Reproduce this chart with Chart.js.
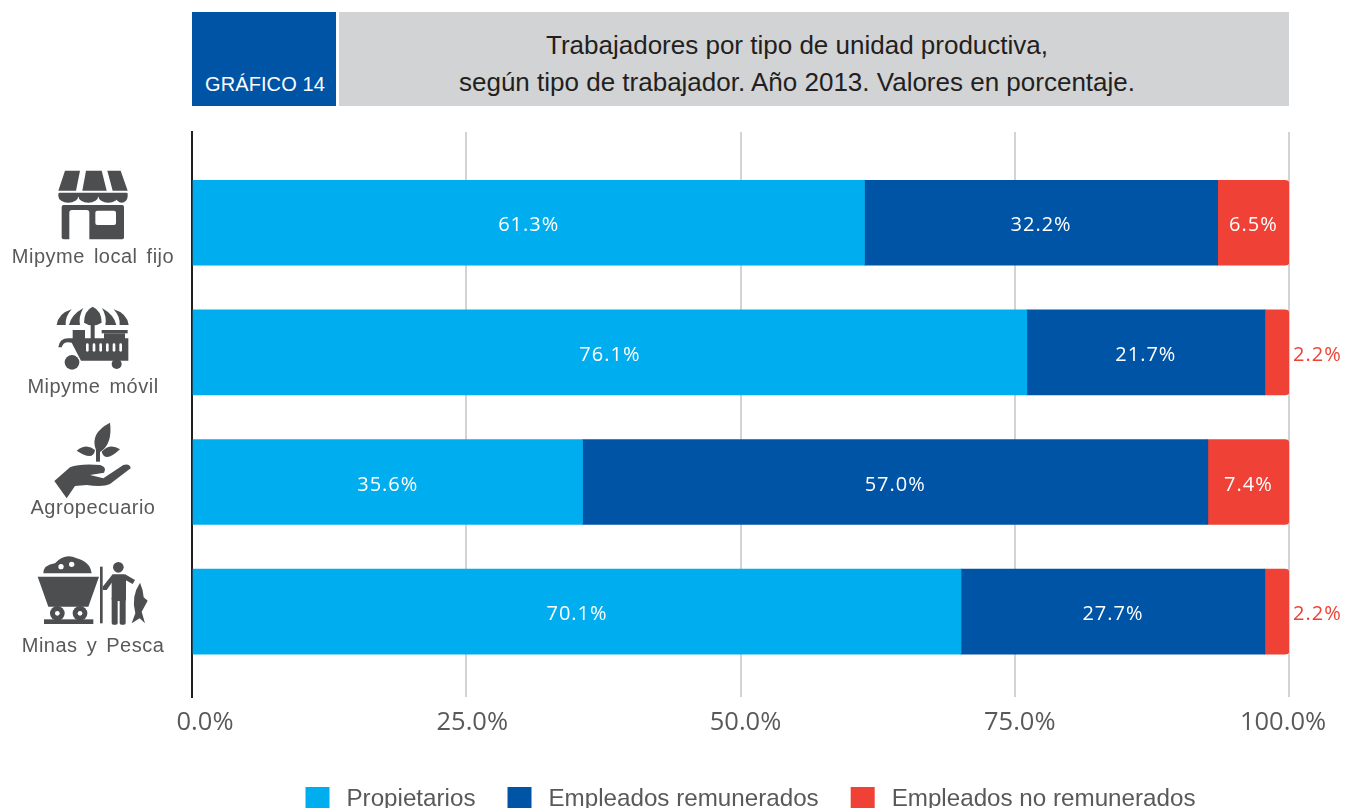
<!DOCTYPE html>
<html lang="es">
<head>
<meta charset="utf-8">
<title>Gráfico 14</title>
<script src="https://cdn.jsdelivr.net/npm/chart.js@4"></script>
<style>
  html, body { margin: 0; padding: 0; background: #fff; width: 1345px; height: 808px; overflow: hidden; }
  #chart { position: absolute; left: 0; top: 0; }
  .head { position: absolute; top: 12px; height: 94px; }
  .head-num { left: 192px; width: 144px; background: #0054a6; }
  .head-num span { position: absolute; left: 13px; top: 60px; color: #fff; font: 20px/24px "Liberation Sans", sans-serif; letter-spacing: .1px; white-space: nowrap; }
  .head-title { left: 339px; width: 916px; background: #d1d3d4; color: #231f20; text-align: center; font: 26px/37px "Liberation Sans", sans-serif; padding: 15px 34px 0 0; height: 79px; }
</style>
</head>
<body>
<div class="head head-num"><span>GRÁFICO 14</span></div>
<div class="head head-title">Trabajadores por tipo de unidad productiva,<br>según tipo de trabajador. Año 2013. Valores en porcentaje.</div>
<canvas id="chart" width="1345" height="821"></canvas>
<script>
const categories = ["Mipyme local fijo", "Mipyme móvil", "Agropecuario", "Minas y Pesca"];
const propietarios = [61.3, 76.1, 35.6, 70.1];
const remunerados = [32.2, 21.7, 57.0, 27.7];
const noRemunerados = [6.5, 2.2, 7.4, 2.2];
const xTicks = [0, 25, 50, 75, 100];

const ICON = "#4d4e50";
const LABEL = "#58595b";
const RED = "#ef4136";

function poly(ctx, pts) {
  ctx.beginPath();
  pts.forEach((p, i) => (i ? ctx.lineTo(p[0], p[1]) : ctx.moveTo(p[0], p[1])));
  ctx.closePath();
  ctx.fill();
}
function circle(ctx, x, y, r) {
  ctx.beginPath();
  ctx.arc(x, y, r, 0, Math.PI * 2);
  ctx.fill();
}

// Icons are drawn at 3x, in the units of a 200px wide column
const icons = [
  function store(ctx) {
    poly(ctx, [[195, 62], [240, 62], [228, 122], [175, 122]]);
    poly(ctx, [[258, 62], [305, 62], [320, 122], [247, 122]]);
    poly(ctx, [[322, 62], [362, 62], [383, 122], [338, 122]]);
    ctx.beginPath();
    ctx.roundRect(175, 128, 208, 12, 4);
    ctx.fill();
    [[205, 30], [265, 30], [325, 30], [365, 18]].forEach((s) => {
      ctx.beginPath();
      ctx.ellipse(s[0], 138, s[1], 20, 0, 0, Math.PI);
      ctx.fill();
    });
    ctx.beginPath();
    ctx.roundRect(185, 165, 187, 103, 6);
    ctx.fill();
    ctx.fillStyle = "#fff";
    ctx.beginPath();
    ctx.roundRect(208, 180, 60, 95, [8, 8, 0, 0]);
    ctx.fill();
    ctx.beginPath();
    ctx.roundRect(286, 182, 62, 43, 6);
    ctx.fill();
  },
  function cart(ctx) {
    const petals = (m) => {
      ctx.beginPath();
      ctx.moveTo(m(170), 525);
      ctx.quadraticCurveTo(m(175), 490, m(215), 478);
      ctx.quadraticCurveTo(m(195), 500, m(197), 525);
      ctx.closePath();
      ctx.fill();
      ctx.beginPath();
      ctx.moveTo(m(207), 525);
      ctx.quadraticCurveTo(m(213), 495, m(250), 474);
      ctx.quadraticCurveTo(m(235), 500, m(240), 525);
      ctx.closePath();
      ctx.fill();
    };
    petals((x) => x);
    petals((x) => 556 - x);
    ctx.beginPath();
    ctx.moveTo(252, 518);
    ctx.quadraticCurveTo(252, 482, 278, 470);
    ctx.quadraticCurveTo(305, 482, 305, 518);
    ctx.quadraticCurveTo(278, 535, 252, 518);
    ctx.fill();
    ctx.fillRect(272, 520, 12, 50);
    ctx.fillRect(218, 540, 37, 28);
    ctx.fillRect(305, 540, 78, 10);
    ctx.fillRect(312, 550, 63, 20);
    ctx.beginPath();
    ctx.moveTo(175, 592);
    ctx.quadraticCurveTo(178, 565, 205, 565);
    ctx.lineTo(385, 565);
    ctx.lineTo(385, 632);
    ctx.lineTo(243, 632);
    ctx.lineTo(215, 578);
    ctx.quadraticCurveTo(190, 572, 185, 592);
    ctx.closePath();
    ctx.fill();
    circle(ctx, 216, 637, 22);
    circle(ctx, 350, 642, 15);
    ctx.fillStyle = "#fff";
    [252, 272, 292, 312, 332, 352].forEach((x) => {
      ctx.beginPath();
      ctx.roundRect(x + 6, 580, 8, 25, 4);
      ctx.fill();
    });
  },
  function plant(ctx) {
    ctx.beginPath();
    ctx.moveTo(288, 120);
    ctx.quadraticCurveTo(268, 70, 330, 38);
    ctx.quadraticCurveTo(338, 100, 302, 125);
    ctx.closePath();
    ctx.fill();
    ctx.fillRect(288, 100, 12, 55);
    ctx.beginPath();
    ctx.moveTo(230, 122);
    ctx.quadraticCurveTo(260, 98, 285, 120);
    ctx.quadraticCurveTo(280, 155, 230, 122);
    ctx.fill();
    ctx.beginPath();
    ctx.moveTo(360, 118);
    ctx.quadraticCurveTo(330, 98, 305, 125);
    ctx.quadraticCurveTo(315, 160, 360, 118);
    ctx.fill();
    ctx.beginPath();
    ctx.moveTo(163, 213);
    ctx.lineTo(210, 172);
    ctx.quadraticCurveTo(240, 160, 300, 165);
    ctx.quadraticCurveTo(322, 172, 312, 188);
    ctx.lineTo(270, 195);
    ctx.lineTo(310, 205);
    ctx.lineTo(370, 165);
    ctx.quadraticCurveTo(390, 160, 392, 175);
    ctx.lineTo(330, 222);
    ctx.quadraticCurveTo(310, 232, 260, 225);
    ctx.lineTo(225, 228);
    ctx.lineTo(200, 265);
    ctx.closePath();
    ctx.fill();
  },
  function mining(ctx) {
    ctx.beginPath();
    ctx.moveTo(130, 490);
    ctx.quadraticCurveTo(130, 465, 165, 460);
    ctx.quadraticCurveTo(195, 428, 230, 445);
    ctx.quadraticCurveTo(270, 455, 275, 490);
    ctx.closePath();
    ctx.fill();
    poly(ctx, [[113, 500], [297, 500], [265, 590], [145, 590]]);
    circle(ctx, 172, 610, 22);
    circle(ctx, 240, 610, 22);
    ctx.fillRect(132, 628, 148, 14);
    ctx.fillRect(300, 470, 8, 170);
    circle(ctx, 355, 472, 16);
    ctx.beginPath();
    ctx.roundRect(335, 493, 43, 80, 6);
    ctx.fill();
    ctx.beginPath();
    ctx.roundRect(335, 560, 18, 84, 5);
    ctx.fill();
    ctx.beginPath();
    ctx.roundRect(359, 560, 18, 84, 5);
    ctx.fill();
    poly(ctx, [[338, 493], [345, 505], [320, 540], [308, 540], [308, 530]]);
    poly(ctx, [[375, 493], [405, 510], [398, 522], [372, 508]]);
    ctx.beginPath();
    ctx.moveTo(420, 518);
    ctx.quadraticCurveTo(392, 560, 406, 610);
    ctx.lineTo(395, 640);
    ctx.lineTo(419, 625);
    ctx.lineTo(435, 640);
    ctx.lineTo(425, 605);
    ctx.lineTo(443, 572);
    ctx.lineTo(431, 562);
    ctx.quadraticCurveTo(430, 540, 420, 518);
    ctx.fill();
    ctx.fillStyle = "#fff";
    circle(ctx, 183, 470, 8);
    circle(ctx, 215, 463, 8);
    circle(ctx, 172, 610, 7);
    circle(ctx, 240, 610, 7);
  },
];
const iconOrigin = [150, 150, 410, 410];
const labelOffset = [35, 35, 26, 35];
const tickNudge = [13, 6, 5, 5, -6];

// Icon and category name sit in the column left of the axis
const categoryColumn = {
  id: "categoryColumn",
  afterDraw(chart) {
    const { ctx, scales } = chart;
    categories.forEach((name, i) => {
      ctx.save();
      ctx.translate(0, iconOrigin[i]);
      ctx.scale(1 / 3, 1 / 3);
      ctx.fillStyle = ICON;
      icons[i](ctx);
      ctx.restore();

      ctx.save();
      ctx.font = '20px "Liberation Sans", sans-serif';
      ctx.fillStyle = LABEL;
      ctx.textAlign = "center";
      ctx.textBaseline = "middle";
      ctx.letterSpacing = "0.5px";
      ctx.wordSpacing = "3px";
      ctx.fillText(name, 93, scales.y.getPixelForValue(i) + labelOffset[i]);
      ctx.restore();
    });
  },
};

// Values in the middle of each segment, outside the bar when it is too thin
const barValues = {
  id: "barValues",
  afterDatasetsDraw(chart) {
    const { ctx } = chart;
    ctx.save();
    ctx.font = '20px "Open Sans", sans-serif';
    ctx.textBaseline = "middle";
    ctx.letterSpacing = "1px";
    chart.data.datasets.forEach((ds, d) => {
      chart.getDatasetMeta(d).data.forEach((bar, i) => {
        const v = ds.data[i].x;
        const label = v.toFixed(1) + "%";
        if (v < 3) {
          ctx.fillStyle = RED;
          ctx.textAlign = "left";
          ctx.fillText(label, bar.x + 4, bar.y + 3);
        } else {
          ctx.fillStyle = "#fff";
          ctx.textAlign = "center";
          ctx.fillText(label, (bar.base + bar.x) / 2, bar.y + 3);
        }
      });
    });
    ctx.restore();
  },
};

// The end labels of the x axis sit further inside than the grid lines
const axisTweaks = {
  id: "axisTweaks",
  afterLayout(chart) {
    chart.legend.left += 10;
    chart.legend.right += 10;
  },
  beforeDraw(chart) {
    chart.scales.x.getLabelItems(chart.chartArea).forEach((item, i) => {
      item.options.translation[0] += tickNudge[i];
    });
  },
};

const toPoints = (values) => values.map((v, i) => ({ x: v, y: i }));

new Chart(document.getElementById("chart").getContext("2d"), {
  type: "bar",
  data: {
    datasets: [
      { label: "Propietarios", data: toPoints(propietarios), backgroundColor: "#00aeef" },
      { label: "Empleados remunerados", data: toPoints(remunerados), backgroundColor: "#0054a6" },
      {
        label: "Empleados no remunerados",
        data: toPoints(noRemunerados),
        backgroundColor: RED,
        borderRadius: { topRight: 4, bottomRight: 4, topLeft: 0, bottomLeft: 0 },
        borderSkipped: false,
      },
    ],
  },
  options: {
    indexAxis: "y",
    responsive: false,
    animation: false,
    barThickness: 85,
    layout: { padding: { left: 192, right: 56, top: 132, bottom: 0 } },
    scales: {
      x: {
        stacked: true,
        min: 0,
        max: 100,
        afterBuildTicks: (axis) => {
          axis.ticks = xTicks.map((value) => ({ value }));
        },
        afterFit: (axis) => {
          axis.height += 7;
        },
        grid: { color: "#d1d3d4", lineWidth: 2, drawTicks: false },
        border: { display: false },
        ticks: {
          color: LABEL,
          padding: 10,
          maxRotation: 0,
          font: { family: "'Open Sans', sans-serif", size: 25.5 },
          callback: (v) => v.toFixed(1) + "%",
        },
      },
      y: {
        type: "linear",
        offset: false,
        stacked: true,
        reverse: true,
        min: -0.7,
        max: 3.66,
        grid: { display: false },
        border: { color: "#231f20", width: 2 },
        ticks: { display: false },
        afterFit: (axis) => {
          axis.width = 0;
        },
      },
    },
    plugins: {
      tooltip: { enabled: false },
      legend: {
        position: "bottom",
        labels: {
          color: LABEL,
          boxWidth: 24,
          boxHeight: 24,
          padding: 32,
          font: { family: "'Liberation Sans', sans-serif", size: 24.2 },
          generateLabels: (chart) =>
            Chart.defaults.plugins.legend.labels.generateLabels(chart).map((item) => ({
              ...item,
              text: "\u2009" + item.text,
            })),
        },
      },
    },
  },
  plugins: [categoryColumn, barValues, axisTweaks],
});
</script>
</body>
</html>
